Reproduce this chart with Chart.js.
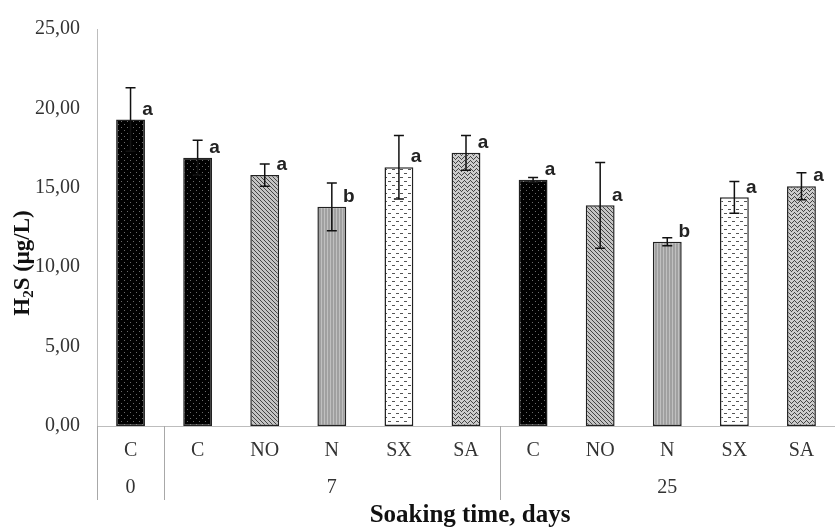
<!DOCTYPE html>
<html>
<head>
<meta charset="utf-8">
<script src="https://cdn.jsdelivr.net/npm/chart.js@4.4.0/dist/chart.umd.min.js"></script>
<style>
    html, body { margin: 0; padding: 0; background: #ffffff; }
    #wrap { width: 835px; height: 527px; }
</style>
</head>
<body>
<div id="wrap"><canvas id="h2sChart" width="835" height="527"></canvas></div>
<script>
// treatments on the category axis, with soaking-time groups under them
const treatments = ['C', 'C', 'NO', 'N', 'SX', 'SA', 'C', 'NO', 'N', 'SX', 'SA'];
const groupLabels = ['0', '7', '25'];
const groupSizes = [1, 5, 5];

// H2S means, standard deviations and significance letters
const means = [19.3, 16.9, 15.8, 13.8, 16.3, 17.2, 15.5, 13.9, 11.6, 14.4, 15.1];
const errors = [2.0, 1.1, 0.7, 1.5, 2.0, 1.1, 0.15, 2.7, 0.25, 1.0, 0.85];
const letters = ['a', 'a', 'a', 'b', 'a', 'a', 'a', 'a', 'b', 'a', 'a'];

const yTicks = [0, 5, 10, 15, 20, 25];

// fill patterns, one per treatment
function makePattern(w, h, draw) {
    const c = document.createElement('canvas');
    c.width = w;
    c.height = h;
    const g = c.getContext('2d');
    draw(g, w, h);
    return document.getElementById('h2sChart').getContext('2d').createPattern(c, 'repeat');
}

const patterns = {
    'C': makePattern(6, 6, function (g) {
        g.fillStyle = '#000';
        g.fillRect(0, 0, 6, 6);
        g.fillStyle = '#6a6a6a';
        g.fillRect(1, 1, 1, 1);
        g.fillRect(4, 4, 1, 1);
    }),
    'NO': makePattern(4, 4, function (g) {
        g.fillStyle = '#c4c4c4';
        g.fillRect(0, 0, 4, 4);
        g.fillStyle = '#444';
        for (let i = 0; i < 4; i++) g.fillRect(i, i, 1, 1);
    }),
    'N': makePattern(3, 3, function (g) {
        g.fillStyle = '#a0a0a0';
        g.fillRect(0, 0, 3, 3);
        g.fillStyle = '#c0c0c0';
        g.fillRect(0, 0, 1, 3);
    }),
    'SX': makePattern(8, 8, function (g) {
        g.fillStyle = '#fff';
        g.fillRect(0, 0, 8, 8);
        g.fillStyle = '#555';
        g.fillRect(0, 1, 3, 1);
        g.fillRect(4, 5, 3, 1);
    }),
    'SA': makePattern(6, 4, function (g) {
        g.fillStyle = '#cccccc';
        g.fillRect(0, 0, 6, 4);
        g.fillStyle = '#444';
        g.fillRect(0, 2, 1, 1);
        g.fillRect(1, 1, 1, 1);
        g.fillRect(2, 0, 1, 1);
        g.fillRect(3, 1, 1, 1);
        g.fillRect(4, 2, 1, 1);
        g.fillRect(5, 3, 1, 1);
    })
};

// error bars, letters, group row, separators and axis titles
const extrasPlugin = {
    id: 'extras',
    afterDatasetsDraw(chart) {
        const ctx = chart.ctx;
        const x = chart.scales.x;
        const y = chart.scales.y;
        ctx.save();
        ctx.strokeStyle = '#111';
        ctx.lineWidth = 1.5;
        means.forEach(function (m, i) {
            const px = x.getPixelForValue(i);
            const top = y.getPixelForValue(m + errors[i]);
            const bot = y.getPixelForValue(m - errors[i]);
            ctx.beginPath();
            ctx.moveTo(px, top);
            ctx.lineTo(px, bot);
            ctx.moveTo(px - 5, top);
            ctx.lineTo(px + 5, top);
            ctx.moveTo(px - 5, bot);
            ctx.lineTo(px + 5, bot);
            ctx.stroke();
        });
        ctx.fillStyle = '#222';
        ctx.font = 'bold 19px "Liberation Sans", Arial, sans-serif';
        ctx.textAlign = 'center';
        ctx.textBaseline = 'middle';
        means.forEach(function (m, i) {
            ctx.fillText(letters[i], x.getPixelForValue(i) + 17, y.getPixelForValue(m) - 10);
        });
        ctx.restore();
    },
    afterDraw(chart) {
        const ctx = chart.ctx;
        const x = chart.scales.x;
        const area = chart.chartArea;
        ctx.save();

        // vertical separators between soaking-time groups
        ctx.strokeStyle = '#a8a8a8';
        ctx.lineWidth = 1;
        let start = 0;
        const edges = [area.left];
        groupSizes.forEach(function (n) {
            const end = start + n - 1;
            if (end < treatments.length - 1) {
                edges.push((x.getPixelForValue(end) + x.getPixelForValue(end + 1)) / 2);
            }
            start += n;
        });
        edges.forEach(function (ex) {
            ctx.beginPath();
            ctx.moveTo(Math.round(ex) + 0.5, area.bottom);
            ctx.lineTo(Math.round(ex) + 0.5, area.bottom + 74);
            ctx.stroke();
        });

        // group labels
        ctx.fillStyle = '#333';
        ctx.font = '20px "Liberation Serif", "Times New Roman", serif';
        ctx.textAlign = 'center';
        ctx.textBaseline = 'middle';
        start = 0;
        groupLabels.forEach(function (lab, g) {
            const end = start + groupSizes[g] - 1;
            const cx = (x.getPixelForValue(start) + x.getPixelForValue(end)) / 2;
            ctx.fillText(lab, cx, area.bottom + 62);
            start += groupSizes[g];
        });

        // x title
        ctx.fillStyle = '#111';
        ctx.font = 'bold 25px "Liberation Serif", "Times New Roman", serif';
        ctx.fillText('Soaking time, days', (area.left + area.right) / 2 + 4, 516);

        // y title with subscript
        ctx.translate(23, 263);
        ctx.rotate(-Math.PI / 2);
        const big = 'bold 23px "Liberation Serif", "Times New Roman", serif';
        const small = 'bold 15px "Liberation Serif", "Times New Roman", serif';
        ctx.textAlign = 'left';
        ctx.font = big;
        const w1 = ctx.measureText('H').width;
        const w3 = ctx.measureText('S (μg/L)').width;
        ctx.font = small;
        const w2 = ctx.measureText('2').width;
        let tx = -(w1 + w2 + w3) / 2;
        ctx.font = big;
        ctx.fillText('H', tx, 0);
        tx += w1;
        ctx.font = small;
        ctx.fillText('2', tx, 6);
        tx += w2;
        ctx.font = big;
        ctx.fillText('S (μg/L)', tx, 0);
        ctx.restore();
    }
};

const ctx = document.getElementById('h2sChart').getContext('2d');
new Chart(ctx, {
    type: 'bar',
    data: {
        labels: treatments,
        datasets: [{
            data: means,
            backgroundColor: treatments.map(function (t) { return patterns[t]; }),
            borderColor: '#222',
            borderWidth: 1.5,
            borderSkipped: false,
            categoryPercentage: 1,
            barPercentage: 0.43
        }]
    },
    options: {
        responsive: false,
        animation: false,
        layout: { padding: { top: 25, right: 0, bottom: 0, left: 0 } },
        plugins: {
            legend: { display: false },
            tooltip: { enabled: false }
        },
        scales: {
            x: {
                grid: { display: false, drawTicks: false },
                border: { display: true, color: '#bdbdbd', width: 1 },
                ticks: {
                    color: '#333',
                    padding: 13,
                    font: { family: '"Liberation Serif", "Times New Roman", serif', size: 20 }
                },
                afterFit: function (scale) { scale.height = 101; }
            },
            y: {
                min: 0,
                max: 25,
                afterBuildTicks: function (scale) {
                    scale.ticks = yTicks.map(function (v) { return { value: v }; });
                },
                grid: { display: false, drawTicks: false },
                border: { display: true, color: '#bdbdbd', width: 1 },
                ticks: {
                    color: '#333',
                    padding: 17,
                    font: { family: '"Liberation Serif", "Times New Roman", serif', size: 20 },
                    callback: function (v) { return v.toFixed(2).replace('.', ','); }
                },
                afterFit: function (scale) { scale.width = 97; }
            }
        }
    },
    plugins: [extrasPlugin]
});
</script>
</body>
</html>
